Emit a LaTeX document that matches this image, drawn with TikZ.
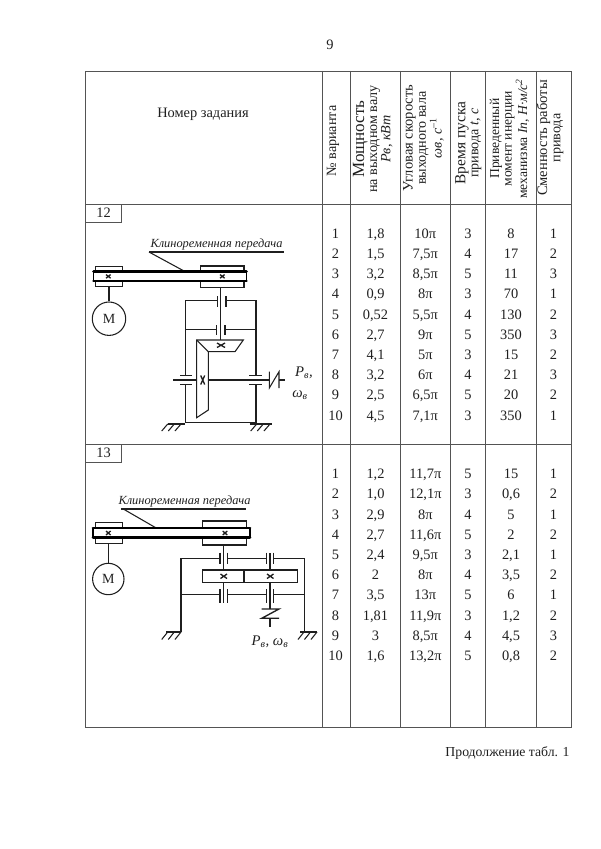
\documentclass[tikz,border=0pt]{standalone}
\usepackage{fontspec}
\setmainfont{Liberation Serif}
\definecolor{ln}{gray}{0.33}
\definecolor{tx}{gray}{0.12}
\tikzset{
  grid/.style={draw=ln,line width=0.7pt},
  mech/.style={draw=tx,line width=0.8pt},
  belt/.style={draw=black,line width=2pt,line cap=round},
  txt/.style={inner sep=0pt,text=tx,font=\fontsize{10.8}{13}\selectfont},
  cell/.style={txt,anchor=base,yshift=-3.75pt},
  head/.style={txt,rotate=90,align=center,font=\fontsize{10.6}{9.9}\selectfont},
  lab/.style={inner sep=0pt,text=tx,font=\fontsize{9.3}{11}\selectfont\itshape},
}
\newcommand{\bigline}[2]{{\fontsize{#1}{9.9}\selectfont #2}}
\begin{document}
\begin{tikzpicture}[x=0.75pt,y=-0.75pt]
\useasboundingbox (0,0) rectangle (600,849);
% page texts
\node[txt] (page) at (330,45) {9};
\node[txt,font=\fontsize{10.3}{13}\selectfont] (cont) at (507.5,753) {Продолжение табл. 1};
% table
\draw[grid] (85,71) rectangle (571,727);
\draw[grid] (85,204) -- (571,204);
\draw[grid] (85,444) -- (571,444);
\foreach \x in {322,350.3,400.3,450.3,485.7,536} \draw[grid] (\x,71) -- (\x,727);
\node[txt] (h0) at (203,114) {Номер задания};
\node[head] (h1) at (333,141) {№ варианта};
\node[head] (h2) at (372.7,139) {\bigline{12.8}{Мощность}\\на выходном валу\\\textit{Pв, кВт}};
\node[head] (h3) at (423.5,138) {\bigline{10.9}{Угловая скорость}\\выходного вала\\\textit{ωв, с}\textsuperscript{–1}};
\node[head] (h4) at (468.3,143) {\bigline{11.6}{Время пуска}\\привода \textit{t, с}};
\node[head,font=\fontsize{10.2}{9.4}\selectfont] (h5) at (509.5,138.7) {Приведенный\\момент инерции\\механизма \textit{Iп, Н·м/с}\textsuperscript{\textit{2}}};
\node[head] (h6) at (550,138) {\bigline{10.9}{Сменность работы}\\привода};
% rows, task 12
\foreach \ca/\cb/\cc/\cd/\ce/\cf [count=\i, evaluate=\i as \yy using 233.3+(\i-1)*20.2] in {
 1/{1,8}/10π/3/8/1, 2/{1,5}/{7,5π}/4/17/2, 3/{3,2}/{8,5π}/5/11/3, 4/{0,9}/8π/3/70/1,
 5/{0,52}/{5,5π}/4/130/2, 6/{2,7}/9π/5/350/3, 7/{4,1}/5π/3/15/2, 8/{3,2}/6π/4/21/3,
 9/{2,5}/{6,5π}/5/20/2, 10/{4,5}/{7,1π}/3/350/1}{
  \node[cell] (a\i a) at (335.5,\yy) {\ca};
  \node[cell] (a\i b) at (375.5,\yy) {\cb};
  \node[cell] (a\i c) at (425.3,\yy) {\cc};
  \node[cell] (a\i d) at (468,\yy) {\cd};
  \node[cell] (a\i e) at (511,\yy) {\ce};
  \node[cell] (a\i f) at (553.5,\yy) {\cf};
}
% rows, task 13
\foreach \ca/\cb/\cc/\cd/\ce/\cf [count=\i, evaluate=\i as \yy using 473.7+(\i-1)*20.2] in {
 1/{1,2}/{11,7π}/5/15/1, 2/{1,0}/{12,1π}/3/{0,6}/2, 3/{2,9}/8π/4/5/1, 4/{2,7}/{11,6π}/5/2/2,
 5/{2,4}/{9,5π}/3/{2,1}/1, 6/2/8π/4/{3,5}/2, 7/{3,5}/13π/5/6/1, 8/{1,81}/{11,9π}/3/{1,2}/2,
 9/3/{8,5π}/4/{4,5}/3, 10/{1,6}/{13,2π}/5/{0,8}/2}{
  \node[cell] (b\i a) at (335.5,\yy) {\ca};
  \node[cell] (b\i b) at (375.5,\yy) {\cb};
  \node[cell] (b\i c) at (425.3,\yy) {\cc};
  \node[cell] (b\i d) at (468,\yy) {\cd};
  \node[cell] (b\i e) at (511,\yy) {\ce};
  \node[cell] (b\i f) at (553.5,\yy) {\cf};
}
% task number boxes
\draw[grid] (85,204) rectangle (121.7,222);
\node[txt] (n12) at (103.5,213.2) {12};
\draw[grid] (85,444) rectangle (121.7,462);
\node[txt] (n13) at (103.5,453.2) {13};

% ---------- scheme 12 ----------
\node[lab] (l12) at (216.5,245) {Клиноременная передача};
\draw[mech] (149,252) -- (284,252);
\draw[mech] (149,252) -- (184,271);
\draw[mech] (95.7,266.7) rectangle (122.3,286.7);
\draw[mech] (200.7,266) rectangle (244,287.3);
\fill[white] (94,271) rectangle (246,281);
\draw[belt] (93.5,271.5) -- (246.5,271.5);
\draw[belt] (93.5,281) -- (246.5,281);
\draw[belt,line width=1pt] (93.5,271.5) -- (93.5,281) (246.5,271.5) -- (246.5,281);
\draw[mech,line width=1pt] (106,274.6) -- (110.6,278.2) (106,278.2) -- (110.6,274.6);
\draw[mech,line width=1pt] (220,274.6) -- (224.6,278.2) (220,278.2) -- (224.6,274.6);
\node[draw=tx,line width=0.8pt,circle,minimum size=33.4*0.75pt,inner sep=0pt,text=tx,font=\fontsize{10.5}{12}\selectfont] (m12) at (109,318.7) {М};
\draw[mech] (109,286.7) -- (m12.north);
\draw[mech] (220.7,287.3) -- (220.7,340);
% upper bearings
\draw[mech] (217.7,296) -- (217.7,306.7) (226,296) -- (226,306.7);
\draw[mech] (216.7,325) -- (216.7,335) (225,325) -- (225,335);
\draw[mech] (217.7,300.3) -- (185.3,300.3) -- (185.3,375.7);
\draw[mech] (226,300.3) -- (256,300.3) -- (256,375.7);
\draw[mech] (216.7,329.7) -- (185.3,329.7);
\draw[mech] (225,329.7) -- (256,329.7);
% bevel gears
\draw[mech,fill=white] (196.7,340) -- (243.3,340) -- (235,351.7) -- (208.3,351.7) -- (208.3,410) -- (196.7,417.7) -- cycle;
\draw[mech] (196.7,340) -- (208.3,351.7);
\draw[mech,line width=1pt] (217,343) -- (225,347.5) (217,347.5) -- (225,343);
\draw[mech,line width=1pt] (200.7,375.5) -- (204.7,384.5) (200.7,384.5) -- (204.7,375.5);
% output shaft with bearings
\draw[mech] (173.3,380) -- (196.7,380);
\draw[mech] (208.3,380) -- (269.3,380);
\draw[mech] (180,375.7) -- (191.7,375.7) (180,384.3) -- (191.7,384.3);
\draw[mech] (249.3,375.7) -- (261.7,375.7) (249.3,384.3) -- (261.7,384.3);
\draw[mech] (185.3,384.3) -- (185.3,422.7) -- (256,422.7) -- (256,384.3);
% coupling
\draw[mech] (269.3,371.7) -- (269.3,388) -- (279,371.7) -- (279,388);
\draw[mech] (279,380) -- (285,380);
% grounds
\draw[mech] (167.7,424) -- (185.3,424);
\draw[mech] (249.5,424) -- (271.7,424);
\foreach \x in {167.7,174.3,181} \draw[mech] (\x,424) -- ++(-6,7);
\foreach \x in {256.7,263.3,270} \draw[mech] (\x,424) -- ++(-6,7);
\node[lab,font=\fontsize{11}{12}\selectfont\itshape] (p12) at (304,373) {P\textsubscript{в},};
\node[lab,font=\fontsize{11}{12}\selectfont\itshape] (w12) at (300,395) {ω\textsubscript{в}};

% ---------- scheme 13 ----------
\node[lab] (l13) at (184.5,501.5) {Клиноременная передача};
\draw[mech] (121,509) -- (245.7,509);
\draw[mech] (123.3,509) -- (156.7,528.3);
\draw[mech] (95.7,522.7) rectangle (122.3,543.3);
\draw[mech] (202.7,521) rectangle (246.7,545);
\fill[white] (94,528) rectangle (249,537.3);
\draw[belt] (93,528) -- (250,528);
\draw[belt] (93,537.3) -- (250,537.3);
\draw[belt,line width=1pt] (93,528) -- (93,537.3) (250,528) -- (250,537.3);
\draw[mech,line width=1pt] (106,531) -- (110.6,535) (106,535) -- (110.6,531);
\draw[mech,line width=1pt] (222.7,531) -- (227.3,535) (222.7,535) -- (227.3,531);
\node[draw=tx,line width=0.8pt,circle,minimum size=31.4*0.75pt,inner sep=0pt,text=tx,font=\fontsize{10.5}{12}\selectfont] (m13) at (108.3,579) {М};
\draw[mech] (108.3,543.3) -- (m13.north);
\draw[mech] (223.7,545) -- (223.7,570);
\draw[mech] (223.7,582.3) -- (223.7,603.3);
\draw[mech] (270,553) -- (270,570);
\draw[mech] (270,582.3) -- (270,608.5);
% bearings
\foreach \x in {220,227.3,266.7,273.3} {\draw[mech] (\x,552.7) -- (\x,564); \draw[mech] (\x,589) -- (\x,603.3);}
\draw[mech] (181,558.3) -- (220,558.3) (227.3,558.3) -- (266.7,558.3) (273.3,558.3) -- (304.3,558.3);
\draw[mech] (181,594.7) -- (220,594.7) (227.3,594.7) -- (266.7,594.7) (273.3,594.7) -- (304.3,594.7);
\draw[mech] (181,558.3) -- (181,632);
\draw[mech] (304.3,558.3) -- (304.3,632);
% gears
\draw[mech,line width=1pt] (202.7,570) rectangle (297.3,582.3);
\draw[mech,line width=1pt] (244,570) -- (244,582.3);
\draw[mech,line width=1pt] (220.5,574) -- (227,578.5) (220.5,578.5) -- (227,574);
\draw[mech,line width=1pt] (267,574) -- (273.5,578.5) (267,578.5) -- (273.5,574);
% coupling
\draw[mech,line width=1pt] (261.7,609) -- (279,609) -- (261.7,618.3) -- (279,618.3);
\draw[mech] (270,618.3) -- (270,626.7);
% grounds
\draw[mech] (166,632) -- (181,632);
\draw[mech] (300,632) -- (317.3,632);
\foreach \x in {167.7,174.3,181} \draw[mech] (\x,632) -- ++(-6,7.5);
\foreach \x in {304,310.5,317} \draw[mech] (\x,632) -- ++(-6,7.5);
\node[lab,font=\fontsize{11}{12}\selectfont\itshape] (p13) at (270,642) {P\textsubscript{в}, ω\textsubscript{в}};
\end{tikzpicture}
\end{document}
